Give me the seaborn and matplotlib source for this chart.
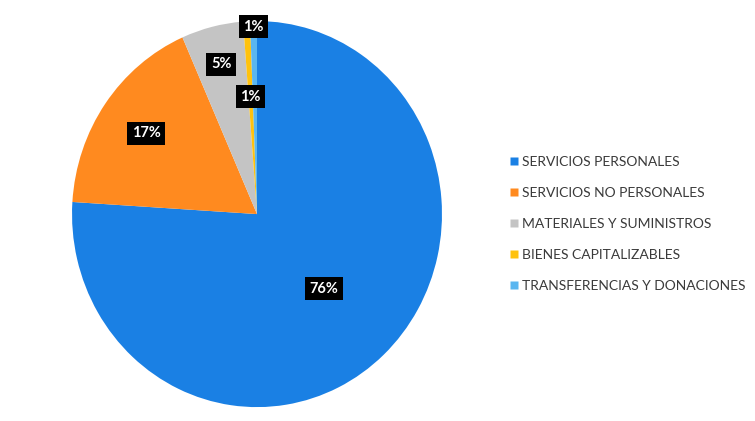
import matplotlib.pyplot as plt
import seaborn as sns
import numpy as np
from matplotlib.lines import Line2D

categories = ['SERVICIOS PERSONALES', 'SERVICIOS NO PERSONALES',
              'MATERIALES Y SUMINISTROS', 'BIENES CAPITALIZABLES',
              'TRANSFERENCIAS Y DONACIONES']
values = [76.0, 17.4, 5.4, 0.6, 0.6]
labels = ['76%', '17%', '5%', '1%', '1%']
colors = ['#1a80e4', '#ff8a1f', '#c4c4c4', '#ffc20e', '#5ab6f0']
# label distance as fraction of radius (Excel "best fit" look)
label_r = [0.53, 0.73, 0.80, 0.61, 0.97]

sns.set_theme(style='white')
plt.rcParams['font.family'] = ['Lato', 'DejaVu Sans']

fig = plt.figure(figsize=(7.55, 4.21), dpi=100)
# the photographed pie is slightly taller than wide
ax = fig.add_axes([0.0954, 0.033, 0.490, 0.917])

wedges, _ = ax.pie(values, colors=colors, startangle=90, counterclock=False,
                   wedgeprops={'linewidth': 0})
ax.set_aspect('auto')
ax.set_xlim(-1.0, 1.0)
ax.set_ylim(-1.0, 1.0)

for w, lab, r in zip(wedges, labels, label_r):
    mid = np.deg2rad((w.theta1 + w.theta2) / 2)
    ax.text(r * np.cos(mid), r * np.sin(mid), lab, ha='center', va='center',
            color='white', fontsize=10.5, fontweight='bold',
            bbox=dict(boxstyle='square,pad=0.3', fc='black', ec='none'))

handles = [Line2D([0], [0], marker='s', linestyle='none', markersize=6,
                  markerfacecolor=c, markeredgecolor='none') for c in colors]
fig.legend(handles, categories, loc='center left', bbox_to_anchor=(0.655, 0.468),
           frameon=False, fontsize=10, labelspacing=1.38, handletextpad=0.1,
           handlelength=1.0, labelcolor='#3a3a3a')

fig.savefig('out.png', dpi=100)
